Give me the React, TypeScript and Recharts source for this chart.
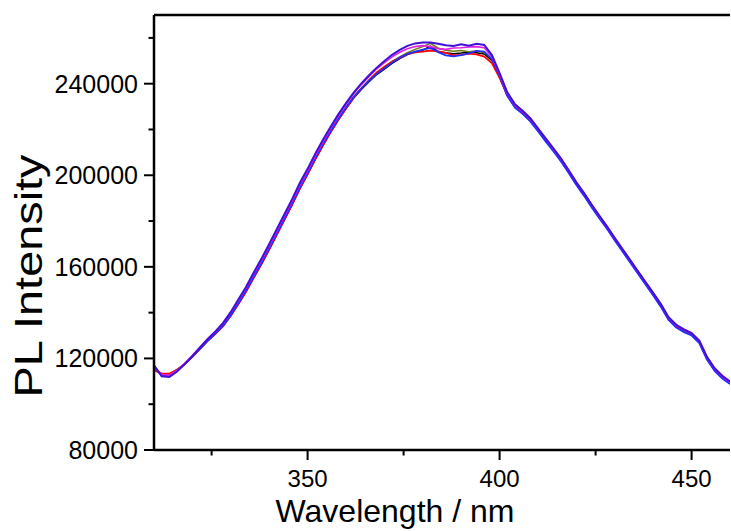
import { LineChart, Line, XAxis, YAxis, ReferenceLine } from "recharts";

// wavelength in nm, 2 nm steps
const wavelengths = [
  310, 312, 314, 316, 318, 320, 322, 324, 326, 328,
  330, 332, 334, 336, 338, 340, 342, 344, 346, 348,
  350, 352, 354, 356, 358, 360, 362, 364, 366, 368,
  370, 372, 374, 376, 378, 380, 382, 384, 386, 388,
  390, 392, 394, 396, 398, 400, 402, 404, 406, 408,
  410, 412, 414, 416, 418, 420, 422, 424, 426, 428,
  430, 432, 434, 436, 438, 440, 442, 444, 446, 448,
  450, 452, 454, 456, 458, 460,
];

const blackRun = [
  116000, 113300, 113200, 115100, 117600, 120800, 124300, 127800, 130800, 134200,
  138700, 143900, 149300, 155400, 161300, 167600, 174200, 180700, 187300, 194300,
  200500, 207000, 213100, 218900, 224200, 229200, 233700, 237500, 240900, 244000,
  246400, 248900, 251000, 252700, 253900, 254600, 256400, 254000, 253500, 253100,
  253400, 253800, 253500, 253000, 250200, 243000, 234800, 229700, 227000, 223700,
  219500, 215000, 210800, 206300, 201300, 196000, 191300, 186200, 181400, 176800,
  171800, 167000, 162200, 157400, 152600, 147800, 142800, 137100, 133800, 131800,
  130300, 127000, 119800, 114800, 111600, 109200,
];

const oliveRun = [
  115800, 113000, 112900, 114900, 117600, 120900, 124400, 127900, 131000, 134400,
  139000, 144300, 149700, 155900, 161800, 168100, 174700, 181200, 187800, 194800,
  200900, 207500, 213600, 219300, 224700, 229700, 234300, 238100, 241500, 244600,
  247000, 249600, 251700, 253500, 255000, 256200, 257600, 255500, 254600, 254200,
  254500, 254000, 254300, 253600, 250800, 243300, 235000, 229900, 227200, 223900,
  219600, 215200, 210900, 206400, 201400, 196100, 191400, 186300, 181500, 176900,
  171900, 167100, 162300, 157500, 152700, 147900, 142900, 137200, 133900, 131900,
  130400, 127100, 119900, 114900, 111600, 109200,
];

const redRun = [
  114800, 113400, 113300, 115000, 117500, 120700, 124200, 127700, 130700, 134100,
  138600, 143800, 149200, 155300, 161200, 167500, 174100, 180600, 187200, 194200,
  200400, 206900, 213000, 218800, 224100, 229100, 233900, 237900, 241600, 244900,
  247400, 249700, 251300, 252900, 253700, 254000, 254500, 254100, 253500, 252400,
  252600, 253100, 252800, 251800, 249000, 242500, 235000, 230200, 227600, 224300,
  220000, 215600, 211200, 206800, 201700, 196400, 191700, 186600, 181800, 177200,
  172200, 167400, 162600, 157800, 153000, 148200, 143300, 137600, 134300, 132300,
  130700, 127400, 120300, 115300, 111900, 109400,
];

const blueRun = [
  116600, 112600, 112300, 114600, 117500, 120800, 124300, 127800, 130900, 134300,
  138900, 144200, 149600, 155800, 161700, 168000, 174600, 181100, 187700, 194700,
  200800, 207400, 213500, 219200, 224600, 229600, 234100, 237900, 241300, 244300,
  246700, 249200, 251400, 253000, 254000, 254900, 255600, 253800, 252400, 251900,
  252500, 253200, 254300, 254000, 250800, 243400, 234700, 229500, 226800, 223500,
  219200, 214800, 210500, 206000, 201000, 195700, 191000, 185900, 181100, 176500,
  171500, 166700, 161900, 157100, 152300, 147500, 142500, 136800, 133500, 131500,
  130000, 126700, 119500, 114500, 111200, 108800,
];

const magentaRun = [
  116500, 113000, 112700, 114800, 117900, 121400, 125000, 128600, 131700, 135300,
  140000, 145400, 150800, 157000, 162900, 169200, 175800, 182300, 188900, 195800,
  201900, 208500, 214600, 220400, 225900, 231000, 235600, 239600, 243200, 246500,
  249200, 251700, 253700, 255300, 256200, 256600, 256200, 255300, 255000, 255600,
  255700, 256000, 256200, 255700, 251800, 244000, 235800, 230600, 227900, 224600,
  220300, 215900, 211600, 207100, 202100, 196800, 192100, 187000, 182100, 177500,
  172500, 167700, 162900, 158100, 153300, 148500, 143600, 137900, 134600, 132600,
  131000, 127700, 120600, 115500, 112100, 109600,
];

const violetRun = [
  117000, 112200, 111900, 114300, 117500, 121000, 124800, 128500, 131800, 135500,
  140300, 145800, 151300, 157600, 163600, 170000, 176600, 183100, 189700, 196700,
  202800, 209400, 215500, 221200, 226600, 231500, 236100, 240100, 243700, 247000,
  249900, 252600, 254800, 256500, 257600, 258000, 258000, 257400, 256800, 256500,
  257200, 256600, 257400, 256900, 252500, 244600, 236200, 231000, 228200, 224900,
  220500, 216100, 211800, 207300, 202200, 196900, 192200, 187100, 182300, 177600,
  172600, 167800, 163000, 158200, 153400, 148600, 143700, 138000, 134700, 132700,
  131100, 127800, 120700, 115700, 112400, 109900,
];

const xTicks = [325, 350, 375, 400, 425, 450];
const yTicks = [80000, 100000, 120000, 140000, 160000, 180000, 200000, 220000, 240000, 260000];

const series = [
  { key: "black", color: "#000000", values: blackRun, width: 1.5 },
  { key: "olive", color: "#6b7a10", values: oliveRun, width: 1.5 },
  { key: "red", color: "#ff0000", values: redRun, width: 1.8 },
  { key: "blue", color: "#2030ff", values: blueRun, width: 1.8 },
  { key: "magenta", color: "#e020e0", values: magentaRun, width: 1.6 },
  { key: "violet", color: "#4010d8", values: violetRun, width: 2 },
];

const rows = wavelengths.map((w, i) => {
  const r: Record<string, number> = { w };
  series.forEach((s) => (r[s.key] = s.values[i]));
  return r;
});

function XTick({ x, y, payload }: any) {
  const major = payload.value % 50 === 0;
  return (
    <g>
      <line x1={x} x2={x} y1={y} y2={y + (major ? 10 : 5.5)} stroke="#000" strokeWidth={2} />
      {major && (
        <text x={x} y={y + 37} textAnchor="middle" fontSize={24} fill="#000">
          {payload.value}
        </text>
      )}
    </g>
  );
}

function YTick({ x, y, payload }: any) {
  const major = payload.value % 40000 === 0;
  return (
    <g>
      <line x1={x - (major ? 10 : 5.5)} x2={x} y1={y} y2={y} stroke="#000" strokeWidth={2} />
      {major && (
        <text x={x - 16} y={y} dy="0.36em" textAnchor="end" fontSize={25} fill="#000">
          {payload.value}
        </text>
      )}
    </g>
  );
}

export default function App() {
  return (
    <div
      style={{
        position: "absolute",
        left: 0,
        top: 0,
        width: 731,
        height: 531,
        background: "#fff",
        fontFamily: "'Liberation Sans', Arial, sans-serif",
      }}
    >
      <LineChart width={731} height={531} data={rows} margin={{ top: 15, right: 1, bottom: 0, left: 0 }}>
        <XAxis
          dataKey="w"
          type="number"
          domain={[310, 460]}
          ticks={xTicks}
          height={81}
          tickSize={0}
          tickMargin={0}
          tickLine={false}
          tick={XTick}
          axisLine={{ stroke: "#000", strokeWidth: 2.5 }}
          allowDataOverflow
        />
        <YAxis
          type="number"
          domain={[80000, 270000]}
          ticks={yTicks}
          width={154}
          tickSize={0}
          tickMargin={0}
          tickLine={false}
          tick={YTick}
          interval={0}
          axisLine={{ stroke: "#000", strokeWidth: 2.5 }}
          allowDataOverflow
        />
        <ReferenceLine y={270000} stroke="#000" strokeWidth={2.5} />
        {series.map((s) => (
          <Line
            key={s.key}
            dataKey={s.key}
            stroke={s.color}
            strokeWidth={s.width}
            dot={false}
            type="linear"
            isAnimationActive={false}
          />
        ))}
      </LineChart>
      <svg
        width={731}
        height={531}
        style={{ position: "absolute", left: 0, top: 0, pointerEvents: "none" }}
      >
        <text x={395} y={522} textAnchor="middle" fontSize={32} fill="#000">
          Wavelength / nm
        </text>
        <text
          transform="translate(42,276) rotate(-90)"
          textAnchor="middle"
          fontSize={38}
          fill="#000"
          textLength={243}
          lengthAdjust="spacingAndGlyphs"
        >
          PL Intensity
        </text>
      </svg>
    </div>
  );
}
